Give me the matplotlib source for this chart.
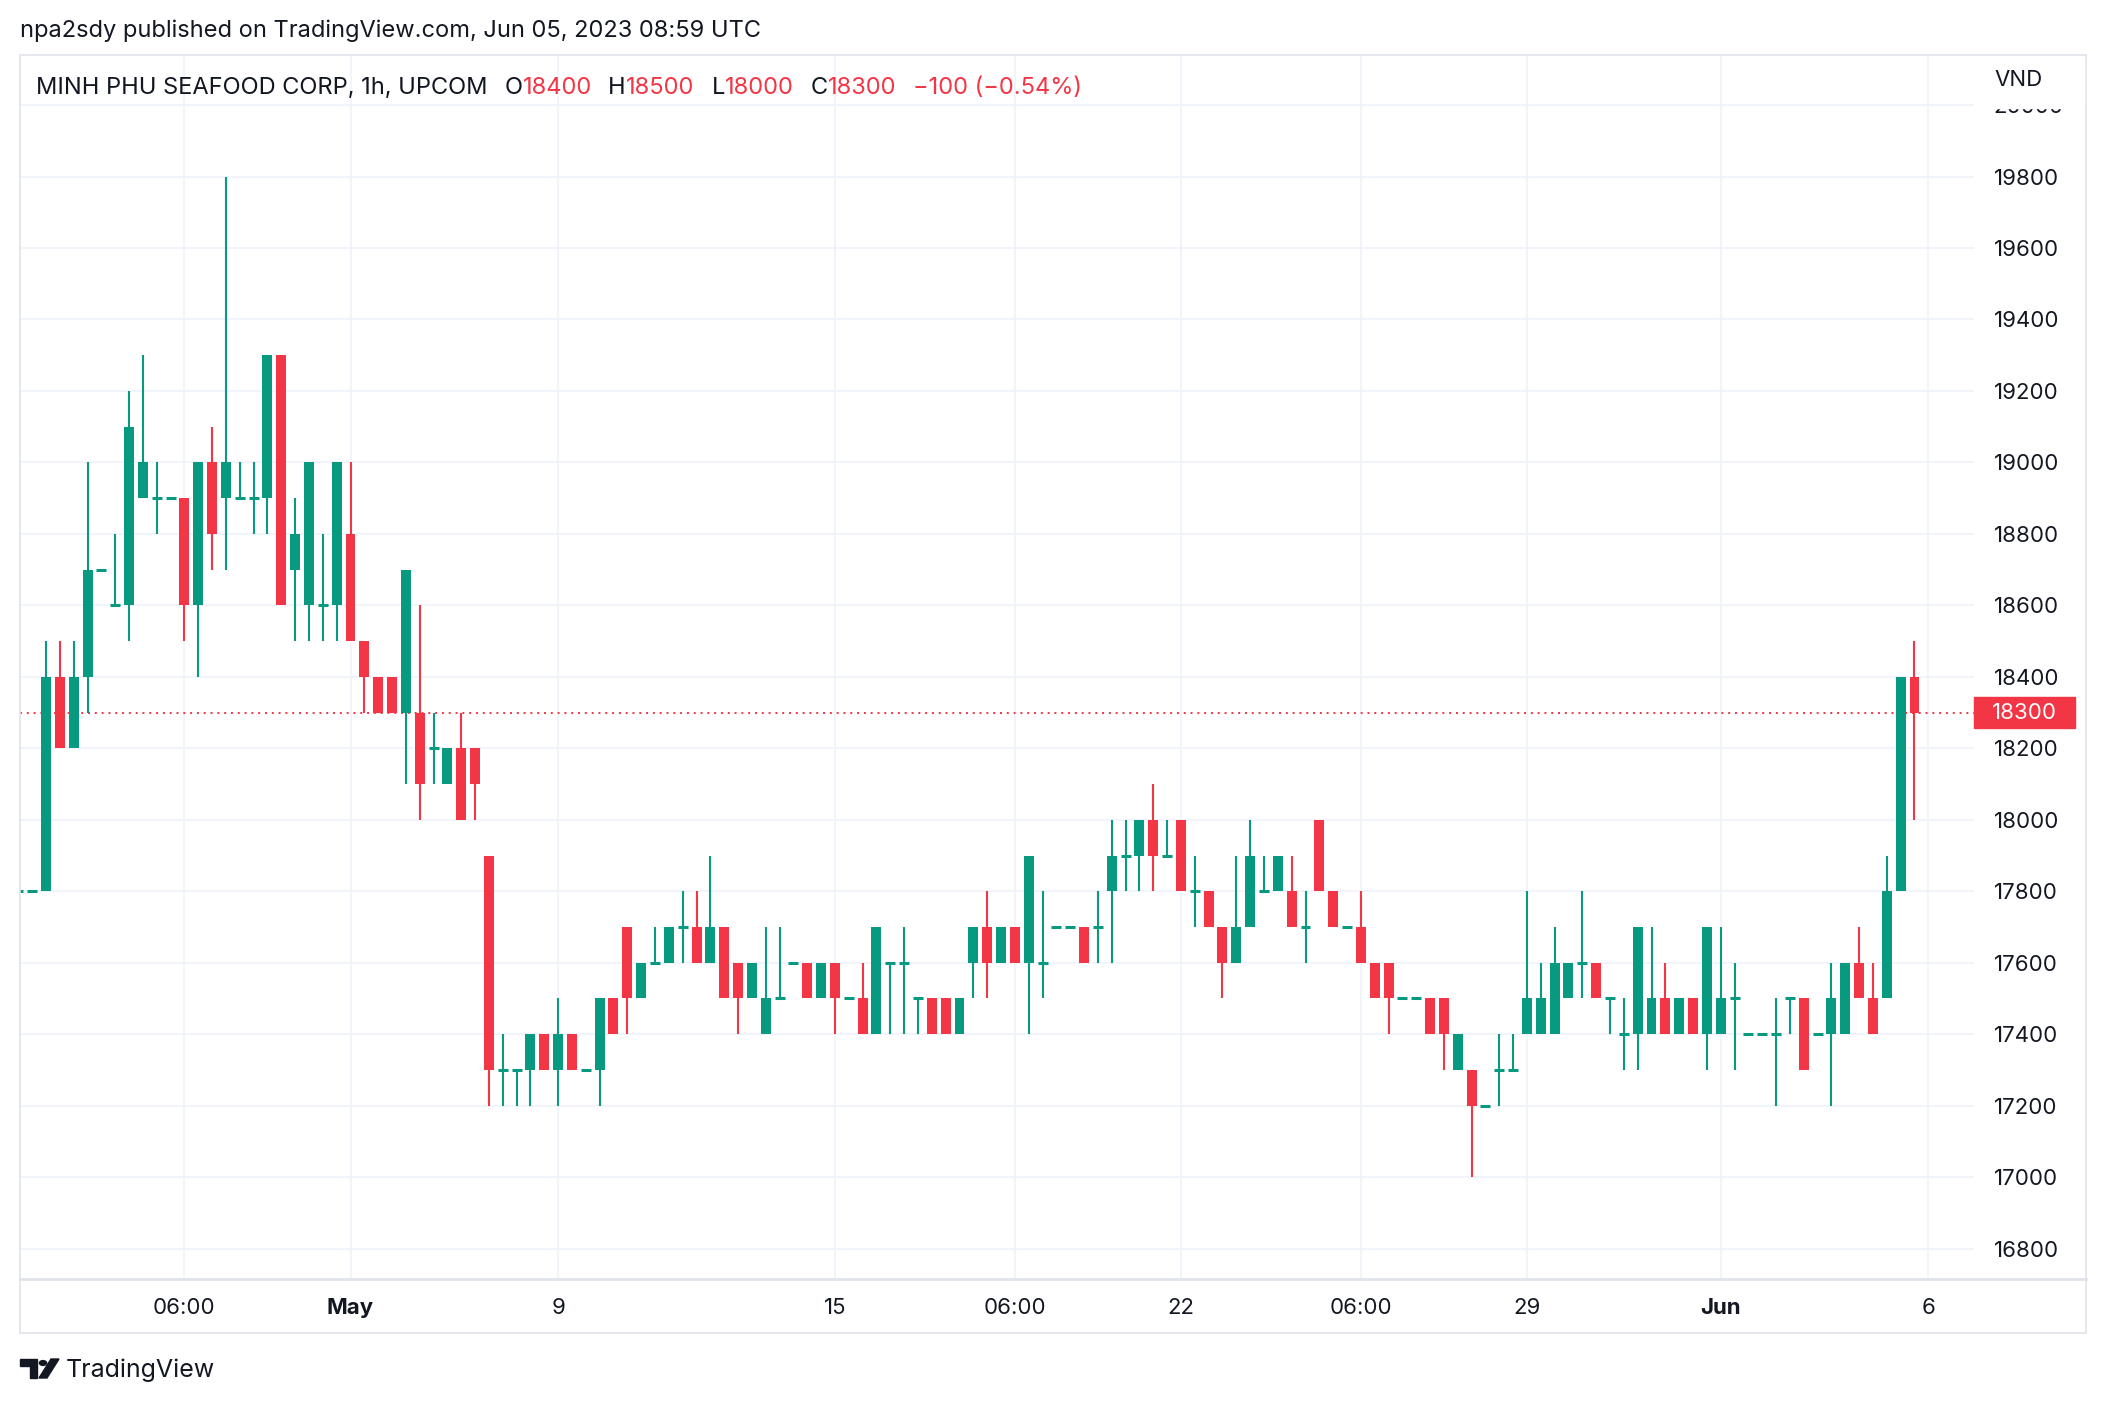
import matplotlib
matplotlib.use('Agg')
import matplotlib.pyplot as plt
from matplotlib.patches import Rectangle, Polygon, Circle
from matplotlib.lines import Line2D

plt.rcParams['font.family'] = ['Inter', 'DejaVu Sans']

# hourly OHLC, MINH PHU SEAFOOD CORP (UPCOM)
opens = [17800, 17800, 17800, 18400, 18200, 18400, 18700, 18600, 18600, 18900,
         18900, 18900, 18900, 18600, 19000, 18900, 18900, 18900, 18900, 19300,
         18700, 18600, 18600, 18600, 18800, 18500, 18400, 18400, 18300, 18300,
         18200, 18100, 18200, 18200, 17900, 17300, 17300, 17300, 17400, 17300,
         17400, 17300, 17300, 17500, 17700, 17500, 17600, 17600, 17700, 17700,
         17600, 17700, 17600, 17500, 17400, 17500, 17600, 17600, 17500, 17600,
         17500, 17500, 17400, 17600, 17600, 17500, 17500, 17500, 17400, 17600,
         17700, 17600, 17700, 17600, 17600, 17700, 17700, 17700, 17700, 17800,
         17900, 17900, 18000, 17900, 18000, 17800, 17800, 17700, 17600, 17700,
         17800, 17800, 17800, 17700, 18000, 17800, 17700, 17700, 17600, 17600,
         17500, 17500, 17500, 17500, 17300, 17300, 17200, 17300, 17300, 17400,
         17400, 17400, 17500, 17600, 17600, 17500, 17400, 17400, 17400, 17500,
         17400, 17500, 17400, 17400, 17500, 17400, 17400, 17400, 17500, 17500,
         17400, 17400, 17400, 17600, 17500, 17500, 17800, 18400]
highs = [17800, 17800, 18500, 18500, 18500, 19000, 18700, 18800, 19200, 19300,
         19000, 18900, 18900, 19000, 19100, 19800, 19000, 19000, 19300, 19300,
         18900, 19000, 18800, 19000, 19000, 18500, 18400, 18400, 18700, 18600,
         18300, 18200, 18300, 18200, 17900, 17400, 17300, 17400, 17400, 17500,
         17400, 17300, 17500, 17500, 17700, 17600, 17700, 17700, 17800, 17800,
         17900, 17700, 17600, 17600, 17700, 17700, 17600, 17600, 17600, 17600,
         17500, 17600, 17700, 17600, 17700, 17500, 17500, 17500, 17500, 17700,
         17800, 17700, 17700, 17900, 17800, 17700, 17700, 17700, 17800, 18000,
         18000, 18000, 18100, 18000, 18000, 17900, 17800, 17700, 17900, 18000,
         17900, 17900, 17900, 17800, 18000, 17800, 17700, 17800, 17600, 17600,
         17500, 17500, 17500, 17500, 17400, 17300, 17200, 17400, 17400, 17800,
         17600, 17700, 17600, 17800, 17600, 17500, 17500, 17700, 17700, 17600,
         17500, 17500, 17700, 17700, 17600, 17400, 17400, 17500, 17500, 17500,
         17400, 17600, 17600, 17700, 17600, 17900, 18400, 18500]
lows = [17800, 17800, 17800, 18200, 18200, 18300, 18700, 18600, 18500, 18900,
        18800, 18900, 18500, 18400, 18700, 18700, 18900, 18800, 18800, 18600,
        18500, 18500, 18500, 18500, 18500, 18300, 18300, 18300, 18100, 18000,
        18100, 18100, 18000, 18000, 17200, 17200, 17200, 17200, 17300, 17200,
        17300, 17300, 17200, 17400, 17400, 17500, 17600, 17600, 17600, 17600,
        17600, 17500, 17400, 17500, 17400, 17500, 17600, 17500, 17500, 17400,
        17500, 17400, 17400, 17400, 17400, 17400, 17400, 17400, 17400, 17500,
        17500, 17600, 17600, 17400, 17500, 17700, 17700, 17600, 17600, 17600,
        17800, 17800, 17800, 17900, 17800, 17700, 17700, 17500, 17600, 17700,
        17800, 17800, 17700, 17600, 17800, 17700, 17700, 17600, 17500, 17400,
        17500, 17500, 17400, 17300, 17300, 17000, 17200, 17200, 17300, 17400,
        17400, 17400, 17500, 17500, 17500, 17400, 17300, 17300, 17400, 17400,
        17400, 17400, 17300, 17400, 17300, 17400, 17400, 17200, 17400, 17300,
        17400, 17200, 17400, 17500, 17400, 17500, 17800, 18000]
closes = [17800, 17800, 18400, 18200, 18400, 18700, 18700, 18600, 19100, 19000,
          18900, 18900, 18600, 19000, 18800, 19000, 18900, 18900, 19300, 18600,
          18800, 19000, 18600, 19000, 18500, 18400, 18300, 18300, 18700, 18100,
          18200, 18200, 18000, 18100, 17300, 17300, 17300, 17400, 17300, 17400,
          17300, 17300, 17500, 17400, 17500, 17600, 17600, 17700, 17700, 17600,
          17700, 17500, 17500, 17600, 17500, 17500, 17600, 17500, 17600, 17500,
          17500, 17400, 17700, 17600, 17600, 17500, 17400, 17400, 17500, 17700,
          17600, 17700, 17600, 17900, 17600, 17700, 17700, 17600, 17700, 17900,
          17900, 18000, 17900, 17900, 17800, 17800, 17700, 17600, 17700, 17900,
          17800, 17900, 17700, 17700, 17800, 17700, 17700, 17600, 17500, 17500,
          17500, 17500, 17400, 17400, 17400, 17200, 17200, 17300, 17300, 17500,
          17500, 17600, 17600, 17600, 17500, 17500, 17400, 17700, 17500, 17400,
          17500, 17400, 17700, 17500, 17500, 17400, 17400, 17400, 17500, 17300,
          17400, 17500, 17600, 17500, 17400, 17800, 18400, 18300]

tick_pos = [12, 24, 39, 59, 72, 84, 97, 109, 123, 138]
tick_labels = ['06:00', 'May', '9', '15', '06:00', '22', '06:00', '29', 'Jun', '6']
price_ticks = list(range(16800, 20001, 200))

GREEN = '#089981'
RED = '#f23645'
TXT = '#131722'
GRID = '#f0f3fa'
FRAME = '#e0e3eb'

W, H = 2106, 1404
fig = plt.figure(figsize=(W / 100, H / 100), dpi=100)


def fx(x):
    return x / W


def fy(y):
    return 1 - y / H


ax = fig.add_axes([fx(20), fy(1279), (1974 - 20) / W, (1279 - 55) / H])

xs = list(range(len(opens)))
colors = [GREEN if c >= o else RED for o, c in zip(opens, closes)]

ax.vlines(xs, lows, highs, colors=colors, lw=1.5, zorder=3)
bodies = [(x, o, c, col) for x, o, c, col in zip(xs, opens, closes, colors) if o != c]
ax.bar([b[0] for b in bodies], [abs(b[2] - b[1]) for b in bodies],
       bottom=[min(b[1], b[2]) for b in bodies], width=0.72,
       color=[b[3] for b in bodies], linewidth=0, zorder=4)
dojis = [(x, o, col) for x, o, c, col in zip(xs, opens, closes, colors) if o == c]
ax.hlines([d[1] for d in dojis], [d[0] - 0.36 for d in dojis], [d[0] + 0.36 for d in dojis],
          colors=[d[2] for d in dojis], lw=2.2, zorder=4)

last = closes[-1]
ax.axhline(last, color=RED, lw=1.4, linestyle=(0, (1, 2.5)), zorder=2)

ax.set_xlim(0.12, 141.3)
ax.set_ylim(16715, 20140)

ax.set_yticks(price_ticks)
ax.set_yticklabels([str(p) for p in price_ticks])
ax.yaxis.tick_right()
ax.set_xticks(tick_pos)
ax.set_xticklabels(tick_labels)
for lbl in ax.get_xticklabels():
    if lbl.get_text() in ('May', 'Jun'):
        lbl.set_fontweight('bold')
ax.tick_params(axis='y', length=0, pad=14, labelsize=16, labelcolor=TXT)
ax.tick_params(axis='x', length=0, pad=14, labelsize=16, labelcolor=TXT)
ax.grid(True, color=GRID, lw=1.3, zorder=0)
ax.set_axisbelow(True)
for s in ax.spines.values():
    s.set_visible(False)

# last price marker on the price scale
tr = ax.get_yaxis_transform()
ax.add_patch(Rectangle((1.0, last - 44), 0.0517, 88, transform=tr, color=RED,
                       clip_on=False, zorder=6))
ax.text(1.0258, last, str(last), transform=tr, color='white', fontsize=16,
        ha='center', va='center', clip_on=False, zorder=7)

# frame
fig.add_artist(Rectangle((fx(20), fy(1333)), (2086 - 20) / W, (1333 - 55) / H,
                         fill=False, edgecolor=FRAME, lw=1.2, zorder=8))
fig.add_artist(Line2D([fx(20), fx(2086)], [fy(1279), fy(1279)], color=FRAME, lw=2, zorder=8))
# currency tag hides most of the 20000 label
fig.add_artist(Rectangle((fx(1976), fy(108)), (2084 - 1976) / W, (108 - 57) / H,
                         color='white', zorder=9))
fig.text(fx(2019), fy(80), 'VND', fontsize=16, color=TXT, ha='center', va='center', zorder=10)

# header texts
fig.text(fx(20), fy(31), 'npa2sdy published on TradingView.com, Jun 05, 2023 08:59 UTC',
         fontsize=17, color=TXT, va='center')
leg_y = fy(88)
fig.text(fx(36), leg_y, 'MINH PHU SEAFOOD CORP, 1h, UPCOM', fontsize=17, color=TXT, va='center')
ohlc_parts = [(505, 'O', '18400'), (608, 'H', '18500'), (712, 'L', '18000'), (811, 'C', '18300')]
for x0, key, val in ohlc_parts:
    t = fig.text(fx(x0), leg_y, key, fontsize=17, color=TXT, va='center')
    fig.canvas.draw()
    bb = t.get_window_extent()
    fig.text(bb.x1 / W, leg_y, val, fontsize=17, color=RED, va='center')
fig.text(fx(913), leg_y, '\u2212100 (\u22120.54%)', fontsize=17, color=RED, va='center')

# TradingView logo
fig.add_artist(Polygon([(fx(20), fy(1359)), (fx(37), fy(1359)), (fx(37), fy(1378)),
                        (fx(30), fy(1378)), (fx(30), fy(1366)), (fx(20), fy(1366))],
                       closed=True, color=TXT))
fig.add_artist(Circle((fx(43), fy(1363)), 3.6 / W, color=TXT))
fig.add_artist(Polygon([(fx(39), fy(1378)), (fx(47), fy(1378)), (fx(59), fy(1359)),
                        (fx(51), fy(1359))], closed=True, color=TXT))
fig.text(fx(66), fy(1370), 'TradingView', fontsize=18, color=TXT, va='center')

fig.savefig('out.png', dpi=100, facecolor='white')
